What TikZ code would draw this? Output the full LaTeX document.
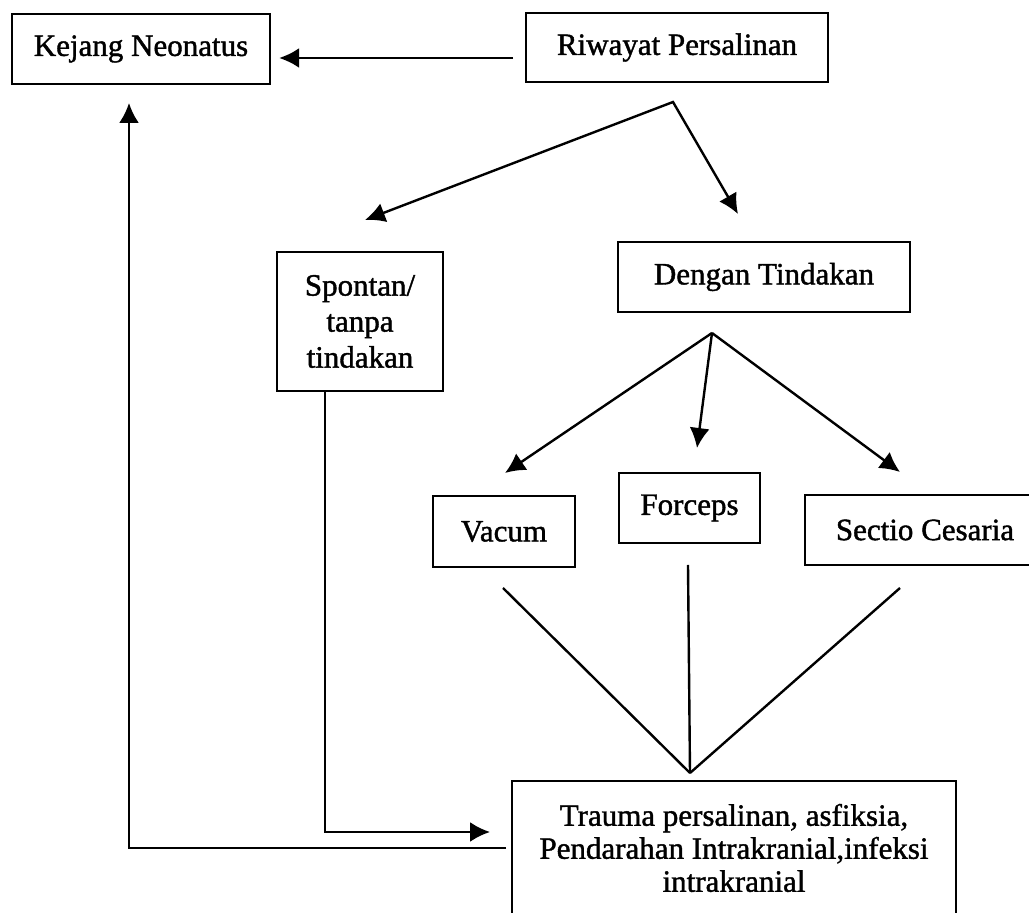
\documentclass[tikz,border=0pt]{standalone}
\usepackage{fontspec}
\setmainfont{Liberation Serif}
\newfontfamily\tebal{Liberation Serif}[FakeBold=1.3]
\usetikzlibrary{calc,arrows.meta,positioning}

\tikzset{
  kotak/.style={draw,line width=1.2pt,align=center,inner sep=0pt},
  garis/.style={line width=1.2pt},
  panah/.style={line width=1.2pt,-{Latex[length=10pt,width=10pt]}},
}

\begin{document}
\begin{tikzpicture}[x=0.5pt,y=-0.5pt,font=\tebal\fontsize{15.5}{18}\selectfont]
    \useasboundingbox (0,0) rectangle (1029,913);
    \clip (0,0) rectangle (1029,913);
    % kotak-kotak
    \node[kotak,minimum width=129pt,minimum height=35pt] (kejang) at (141,49) {Kejang Neonatus};
    \node[kotak,minimum width=151pt,minimum height=34.5pt] (riwayat) at (677,47.5) {Riwayat Persalinan};
    \node[kotak,minimum width=83pt,minimum height=69.5pt] (spontan) at (360,321.5) {Spontan/\\tanpa\\tindakan};
    \node[kotak,minimum width=146pt,minimum height=35pt] (dengan) at (764,277) {Dengan Tindakan};
    \node[kotak,minimum width=71pt,minimum height=35.5pt] (vacum) at (504,531.5) {Vacum};
    \node[kotak,minimum width=70.5pt,minimum height=35pt] (forceps) at (689.5,508) {Forceps};
    \node[kotak,minimum width=120pt,minimum height=35pt] (sectio) at (925,530) {Sectio Cesaria};
    \node[kotak,minimum width=222pt,minimum height=67pt,font=\tebal\fontsize{15.5}{16.5}\selectfont] (trauma) at (734,848)
      {Trauma persalinan, asfiksia,\\Pendarahan Intrakranial,infeksi\\intrakranial};
    % titik bantu
    \coordinate (p1) at (673,102);
    \coordinate (p2) at (712,333);
    \coordinate (p3) at (690,773);
    \coordinate (ts) at (365,220);
    \coordinate (td) at (738,214);
    \coordinate (tv) at (505,473);
    \coordinate (tf) at (697,448);
    \coordinate (tc) at (900,472);
    \coordinate (lv) at (503,588);
    \coordinate (lf) at (688,565);
    \coordinate (lc) at (900,588);
    \coordinate (r) at (513,58);
    \coordinate (kb) at (506,848);
    \coordinate (tk) at (129,103);
    \coordinate (tt) at (490,832);
    % panah
    \draw[panah,shorten >=4pt] (r) -- (r -| kejang.east);
    \draw[garis,{Latex[length=10pt,width=10pt]}-{Latex[length=10pt,width=10pt]}] (ts) -- (p1) -- (td);
    \foreach \n in {tv,tf,tc}
      \draw[panah] (p2) -- (\n);
    \foreach \n in {lv,lf,lc}
      \draw[garis] (\n) -- (p3);
    \draw[panah] ($(spontan.south west)+(49,0)$) |- (tt);
    \draw[panah] (kb) -| (tk);
\end{tikzpicture}
\end{document}
